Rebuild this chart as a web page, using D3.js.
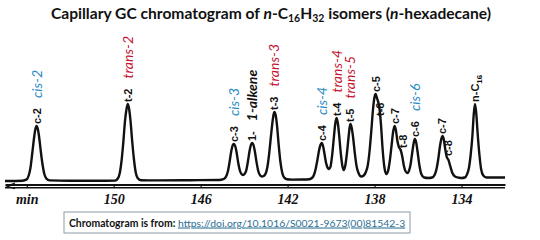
<!DOCTYPE html>
<html>
<head>
<meta charset="utf-8">
<title>Capillary GC chromatogram</title>
<script src="https://d3js.org/d3.v7.min.js"></script>
<style>
  body { margin: 0; background: #fff; }
  svg { display: block; }
  .scan { font-family: "Liberation Sans", Arial, sans-serif; font-weight: bold; font-size: 11px; fill: #111; }
  .over { font-family: Lato, "Open Sans", sans-serif; font-style: italic; font-size: 14px; }
  .tick text { font-family: "Liberation Serif", serif; font-style: italic; font-weight: bold; font-size: 14px; fill: #111; }
</style>
</head>
<body>
<script>
// trace: [retention time (min), detector signal]
var trace = [
  [155.0, 0], [154.2, 0.3], [154.0, 1.6], [153.91, 5.5], [153.83, 13], [153.75, 27],
  [153.67, 42], [153.61, 51], [153.55, 55], [153.49, 52], [153.43, 44], [153.35, 29],
  [153.27, 16], [153.19, 7], [153.1, 2.5], [152.95, 0.6], [152.0, 0.2], [150.5, 0.3],
  [149.94, 0.4], [149.81, 2.5], [149.72, 8], [149.64, 20], [149.56, 38], [149.48, 60],
  [149.41, 72], [149.35, 77], [149.29, 72], [149.23, 61], [149.15, 40], [149.07, 22],
  [148.99, 9], [148.9, 3], [148.75, 0.8], [148.0, 0.6], [146.5, 0.8], [145.2, 1.0],
  [145.07, 1.2], [144.92, 2.2], [144.83, 4.5], [144.75, 9.5], [144.67, 19], [144.59, 30],
  [144.53, 35.5], [144.47, 37], [144.41, 35], [144.35, 29], [144.27, 18], [144.19, 10],
  [144.12, 7], [144.05, 6], [143.98, 7], [143.91, 10], [143.83, 19], [143.75, 30],
  [143.69, 36], [143.63, 38], [143.57, 36], [143.51, 30], [143.43, 19], [143.35, 10],
  [143.26, 5.5], [143.18, 4.5], [143.1, 5], [143.0, 8], [142.93, 14], [142.85, 27],
  [142.77, 44], [142.69, 60], [142.65, 66], [142.61, 69], [142.55, 66], [142.49, 56],
  [142.41, 36], [142.33, 19], [142.25, 8.5], [142.16, 3.5], [142.03, 1.8], [141.8, 1.4],
  [141.3, 1.5], [141.0, 1.8], [140.88, 3], [140.79, 6], [140.71, 12], [140.63, 21],
  [140.55, 31], [140.49, 36], [140.43, 38], [140.37, 35], [140.31, 28], [140.23, 18],
  [140.15, 13], [140.09, 12], [140.03, 14], [139.95, 26], [139.87, 44], [139.81, 57],
  [139.75, 63], [139.69, 58], [139.63, 46], [139.55, 27], [139.48, 15], [139.42, 11],
  [139.35, 15], [139.27, 28], [139.19, 45], [139.15, 53], [139.11, 57], [139.05, 53],
  [138.99, 44], [138.91, 28], [138.83, 15], [138.74, 8], [138.61, 4.5], [138.5, 5.5],
  [138.4, 9], [138.31, 16], [138.23, 30], [138.15, 50], [138.07, 72], [138.01, 83],
  [137.95, 87], [137.89, 83], [137.82, 78], [137.76, 70], [137.7, 55], [137.63, 32],
  [137.55, 14], [137.46, 7], [137.38, 10], [137.3, 20], [137.22, 35], [137.14, 50],
  [137.08, 55], [137.02, 51], [136.95, 40], [136.88, 34], [136.8, 31], [136.73, 25],
  [136.65, 15], [136.57, 9.5], [136.49, 8], [136.42, 10], [136.34, 17], [136.27, 28],
  [136.2, 38], [136.15, 42], [136.09, 39], [136.02, 29], [135.94, 16], [135.85, 7],
  [135.72, 3.5], [135.52, 3], [135.35, 3.5], [135.24, 6], [135.15, 12], [135.07, 22],
  [134.99, 35], [134.93, 42], [134.88, 45], [134.82, 42], [134.75, 32], [134.68, 24],
  [134.6, 21], [134.52, 15], [134.42, 8], [134.3, 4.5], [134.1, 3.2], [134.0, 3],
  [133.85, 3.5], [133.75, 6.5], [133.66, 13], [133.58, 26], [133.5, 45], [133.44, 66],
  [133.38, 77], [133.32, 67], [133.26, 48], [133.18, 27], [133.1, 12], [133.0, 5.5],
  [132.85, 3.5], [132.5, 3.5], [132.0, 3.5]
];

// peak marks printed on the scan (time, signal level under the mark)
var scanText  = ["c-2", "t-2", "c-3", "1-", "t-3", "c-4", "t-4", "t-5", "c-5", "t-6", "c-7", "t-8", "c-6", "c-7", "c-8", "n-C16"];
var scanTime  = [153.52, 149.35, 144.47, 143.63, 142.61, 140.43, 139.75, 139.11, 137.95, 137.77, 137.08, 136.71, 136.15, 134.88, 134.6, 133.38];
var scanLevel = [55, 77, 37, 38, 69, 38, 63, 57, 87, 63, 55, 31, 42, 45, 23, 77];

// coloured names added over the scan
var isoName  = ["cis-2", "trans-2", "cis-3", "1-alkene", "trans-3", "cis-4", "trans-4", "trans-5", "cis-6"];
var isoKind  = ["cis", "trans", "cis", "alkene", "trans", "cis", "trans", "trans", "cis"];
var isoMark  = [0, 1, 2, 3, 4, 5, 6, 7, 12];   // index into the scan marks

var tickValues = [154, 150, 146, 142, 138, 134];
var tickLabels = ["min", "150", "146", "142", "138", "134"];

var kindColor = { cis: "#2a8bc3", trans: "#c4122f", alkene: "#111" };

var svg = d3.select("body").append("svg")
    .attr("width", 540)
    .attr("height", 240);

var x = d3.scaleLinear().domain([155, 132]).range([5, 505]);
var y = d3.scaleLinear().domain([0, 100]).range([181, 81]);

// title
var title = svg.append("text")
    .attr("x", 271).attr("y", 19)
    .attr("text-anchor", "middle")
    .style("font-family", "Lato, 'Open Sans', sans-serif")
    .style("font-weight", "bold")
    .style("font-size", "15.6px")
    .style("fill", "#111");
title.append("tspan").text("Capillary GC chromatogram of ");
title.append("tspan").style("font-style", "italic").text("n");
title.append("tspan").text("-C");
title.append("tspan").attr("dy", 3).style("font-size", "10.5px").text("16");
title.append("tspan").attr("dy", -3).text("H");
title.append("tspan").attr("dy", 3).style("font-size", "10.5px").text("32");
title.append("tspan").attr("dy", -3).text(" isomers (");
title.append("tspan").style("font-style", "italic").text("n");
title.append("tspan").text("-hexadecane)");

// axis
var axisY = 184.5;
var ax = svg.append("g")
    .attr("transform", "translate(0," + axisY + ")")
    .call(d3.axisBottom(x)
        .tickValues(tickValues)
        .tickFormat(function(d, i) { return tickLabels[i]; })
        .tickSizeInner(3)
        .tickSizeOuter(0)
        .tickPadding(5));
ax.select(".domain").attr("stroke", "#111").attr("stroke-width", 2.2);
ax.selectAll(".tick line").attr("stroke", "#111").attr("stroke-width", 1.2);
ax.selectAll(".tick text").attr("dy", "0.8em");
svg.append("line")
    .attr("x1", x.range()[0]).attr("x2", x.range()[1])
    .attr("y1", axisY + 3.2).attr("y2", axisY + 3.2)
    .attr("stroke", "#111").attr("stroke-width", 1.4);
svg.append("path")
    .attr("d", "M" + (x.range()[0] + 10) + "," + (axisY - 1.5) + "L" + (x.range()[0] + 2) + "," + (axisY + 1.6) + "L" + (x.range()[0] + 10) + "," + (axisY + 4.3))
    .attr("fill", "none").attr("stroke", "#111").attr("stroke-width", 1.2);

// chromatogram trace
var line = d3.line()
    .x(function(d) { return x(d[0]); })
    .y(function(d) { return y(d[1]); })
    .curve(d3.curveMonotoneX);

svg.append("path")
    .datum(trace)
    .attr("d", line)
    .attr("fill", "none")
    .attr("stroke", "#111")
    .attr("stroke-width", 2.4)
    .attr("stroke-linejoin", "round");

// scan marks, written upward above each peak
var marks = svg.append("g").selectAll("text")
    .data(scanText)
    .enter().append("text")
    .attr("class", "scan")
    .attr("transform", function(d, i) {
        return "translate(" + (x(scanTime[i]) + 4) + "," + (y(scanLevel[i]) - 2) + ") rotate(-90)";
    });
marks.each(function(d) {
    var t = d3.select(this);
    if (d === "n-C16") {
        t.append("tspan").text("n-C");
        t.append("tspan").attr("dy", 3).style("font-size", "8px").text("16");
    } else {
        t.text(d);
    }
});

var markTop = [];
marks.each(function(d, i) {
    markTop[i] = y(scanLevel[i]) - 2 - this.getComputedTextLength();
});

// coloured isomer names
svg.append("g").selectAll("text")
    .data(isoName)
    .enter().append("text")
    .attr("class", "over")
    .style("font-weight", function(d, i) { return isoKind[i] === "alkene" ? "bold" : "normal"; })
    .style("fill", function(d, i) { return kindColor[isoKind[i]]; })
    .attr("transform", function(d, i) {
        var m = isoMark[i];
        return "translate(" + (x(scanTime[m]) + 5) + "," + (markTop[m] - 10) + ") rotate(-90)";
    })
    .text(function(d) { return d; });

// source box
var box = svg.append("g");
box.append("rect")
    .attr("x", 64).attr("y", 212)
    .attr("width", 346).attr("height", 21)
    .attr("fill", "#fff")
    .attr("stroke", "#8b9aa6")
    .attr("stroke-width", 1);
var src = box.append("text")
    .attr("x", 69).attr("y", 226.5)
    .style("font-family", "Lato, 'Open Sans', sans-serif")
    .style("font-size", "10.4px");
src.append("tspan").style("font-weight", "bold").style("fill", "#111").text("Chromatogram  is from: ");
src.append("tspan").style("fill", "#2e6f93").style("text-decoration", "underline")
    .text("https://doi.org/10.1016/S0021-9673(00)81542-3");
</script>
</body>
</html>
